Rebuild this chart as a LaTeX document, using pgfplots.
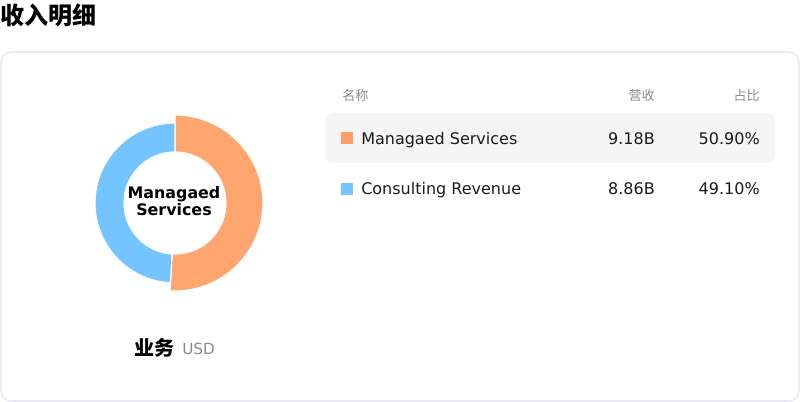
\documentclass[border=0pt]{standalone}
\usepackage{pgfplots}
\pgfplotsset{compat=1.18}
\usepackage{fontspec}
\setmainfont{DejaVu Sans}
\newfontfamily\cjk{Noto Sans CJK SC}
\definecolor{cOrange}{HTML}{FFA56F}
\definecolor{cOrangeSq}{HTML}{FF9E68}
\definecolor{cBlue}{HTML}{74C4FF}
\definecolor{cBorder}{HTML}{E2E0EE}
\definecolor{cRow}{HTML}{F5F5F5}
\definecolor{cGray}{HTML}{8A8A8A}
\definecolor{cText}{HTML}{1A1A1A}
\begin{document}
\begin{tikzpicture}
\begin{axis}[scale only axis, width=600pt, height=301.5pt,
  xmin=0, xmax=800, ymin=0, ymax=402, y dir=reverse, hide axis, clip=false]
% card and highlighted row
\draw[cBorder, line width=0.8pt, rounded corners=7.5pt] (axis cs:1,52) rectangle (axis cs:799,401);
\fill[cRow, rounded corners=6pt] (axis cs:325,113) rectangle (axis cs:775,163);
% donut: Managaed Services 50.90%, Consulting Revenue 49.10%
\pgfmathsetmacro{\angA}{90-50.90*3.6}
\fill[cOrange, draw=white, line width=0.9pt] (axis cs:175,203) ++(90:66pt)
  arc[start angle=90, end angle=\angA, radius=66pt] -- ++({\angA+180}:27.75pt)
  arc[start angle=\angA, end angle=90, radius=38.25pt] -- cycle;
\fill[cBlue, draw=white, line width=0.9pt] (axis cs:175,203) ++(\angA:60pt)
  arc[start angle=\angA, end angle={\angA-49.10*3.6}, radius=60pt] -- ++(270:21.75pt)
  arc[start angle={\angA-49.10*3.6}, end angle=\angA, radius=38.25pt] -- cycle;
\node[inner sep=0pt, align=center, font=\bfseries\fontsize{11.9}{12.75}\selectfont] at (axis cs:174,201) {Managaed\\Services};
% legend squares
\addplot[only marks, mark=square*, mark size=4.2pt, color=cOrangeSq] coordinates {(347,138)};
\addplot[only marks, mark=square*, mark size=4.2pt, color=cBlue] coordinates {(347,189)};
% title
\node[inner sep=0pt, anchor=base west, font=\cjk\bfseries\fontsize{18}{21}\selectfont] at (axis cs:0,25) {收入明细};
% headers
\node[inner sep=0pt, anchor=base west, text=cGray, font=\cjk\fontsize{9.8}{11}\selectfont] at (axis cs:342,100.5) {名称};
\node[inner sep=0pt, anchor=base east, text=cGray, font=\cjk\fontsize{9.8}{11}\selectfont] at (axis cs:655,100.5) {营收};
\node[inner sep=0pt, anchor=base east, text=cGray, font=\cjk\fontsize{9.8}{11}\selectfont] at (axis cs:760,100.5) {占比};
% rows
\node[inner sep=0pt, anchor=base west, text=cText, font=\fontsize{12}{14}\selectfont] at (axis cs:361,144.5) {Managaed Services};
\node[inner sep=0pt, anchor=base east, text=cText, font=\fontsize{12}{14}\selectfont] at (axis cs:655,144.5) {9.18B};
\node[inner sep=0pt, anchor=base east, text=cText, font=\fontsize{12}{14}\selectfont] at (axis cs:760,144.5) {50.90\%};
\node[inner sep=0pt, anchor=base west, text=cText, font=\fontsize{12}{14}\selectfont] at (axis cs:361,195) {Consulting Revenue};
\node[inner sep=0pt, anchor=base east, text=cText, font=\fontsize{12}{14}\selectfont] at (axis cs:655,195) {8.86B};
\node[inner sep=0pt, anchor=base east, text=cText, font=\fontsize{12}{14}\selectfont] at (axis cs:760,195) {49.10\%};
% bottom label
\node[inner sep=0pt, anchor=base west, font=\cjk\bfseries\fontsize{15}{18}\selectfont] at (axis cs:134,356) {业务};
\node[inner sep=0pt, anchor=base west, text=cGray, font=\fontsize{11.5}{14}\selectfont] at (axis cs:182,355) {USD};
\end{axis}
\pgfresetboundingbox
\path[use as bounding box] (current axis.south west) rectangle (current axis.north east);
\end{tikzpicture}
\end{document}
